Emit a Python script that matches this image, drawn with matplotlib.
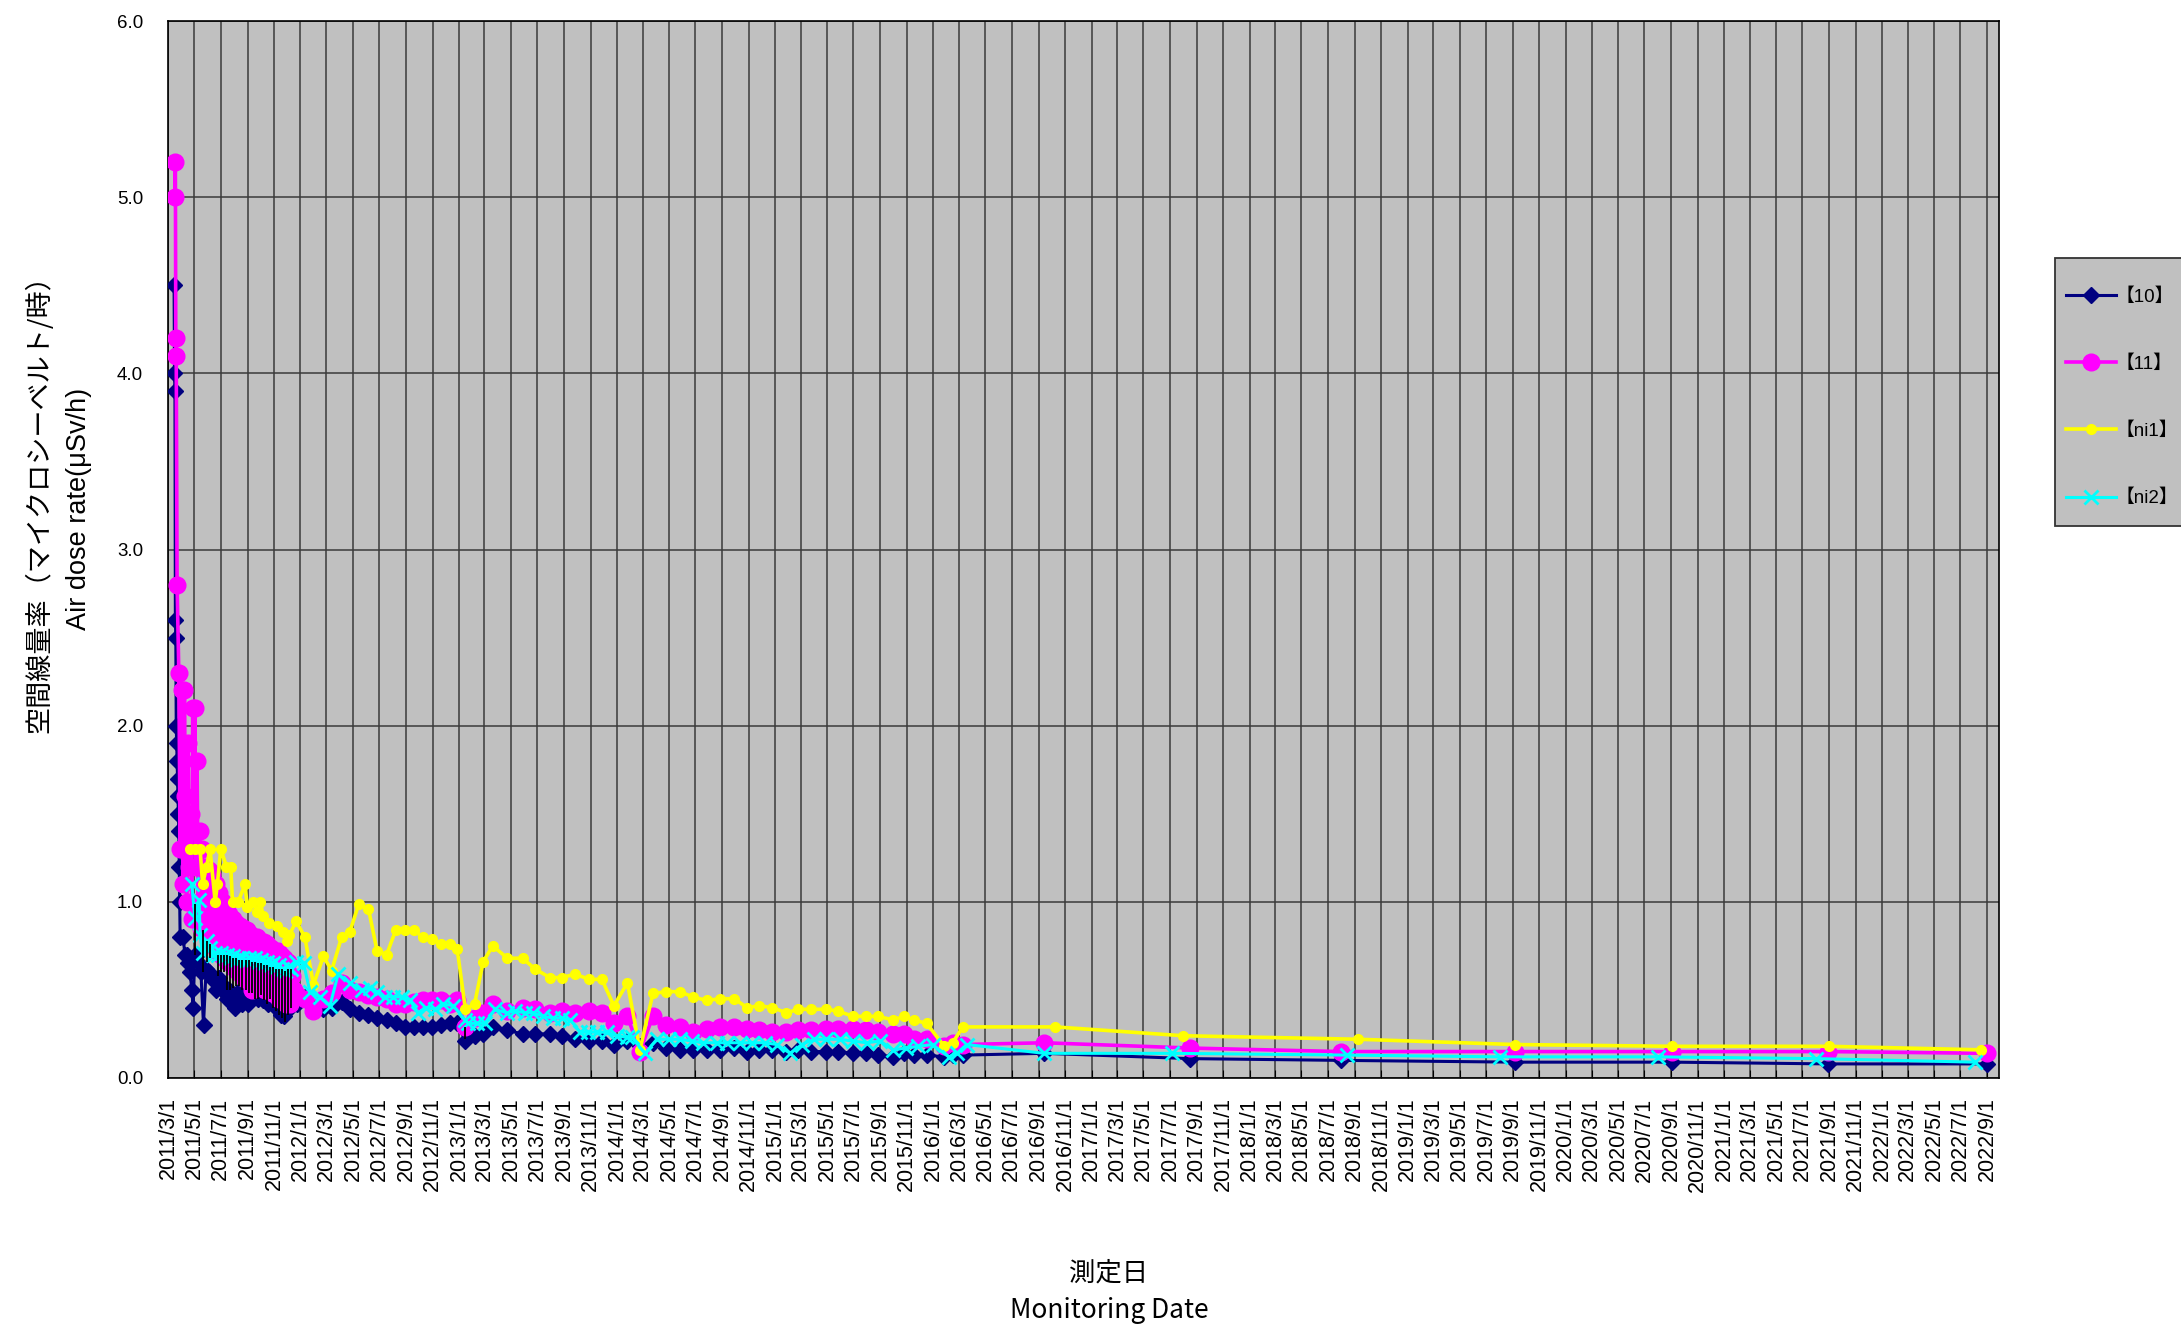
import matplotlib
matplotlib.use("Agg")
import matplotlib.pyplot as plt
import matplotlib.dates as mdates
from matplotlib.ticker import MultipleLocator, FuncFormatter
from matplotlib.patches import Rectangle
import pandas as pd

plt.rcParams['font.family'] = ['Liberation Sans', 'Noto Sans CJK JP', 'DejaVu Sans']

# ---- data -------------------------------------------------------------
# 【10】 daily / weekly readings in 2011
s10_2011_dates = [
    "2011-03-15", "2011-03-16", "2011-03-17", "2011-03-18", "2011-03-19",
    "2011-03-20", "2011-03-21", "2011-03-22", "2011-03-23", "2011-03-24",
    "2011-03-25", "2011-03-26", "2011-03-27", "2011-03-28", "2011-03-29",
    "2011-04-05", "2011-04-09", "2011-04-13", "2011-04-17", "2011-04-21", "2011-04-25", "2011-04-28",
    "2011-05-02", "2011-05-06", "2011-05-11", "2011-05-16", "2011-05-22", "2011-05-28",
    "2011-06-03", "2011-06-09", "2011-06-15", "2011-06-21", "2011-06-27",
    "2011-07-03", "2011-07-09", "2011-07-15", "2011-07-21", "2011-07-27",
    "2011-08-02", "2011-08-08", "2011-08-14", "2011-08-20", "2011-08-26",
    "2011-09-01", "2011-09-07", "2011-09-13", "2011-09-19", "2011-09-25",
    "2011-10-01", "2011-10-07", "2011-10-13", "2011-10-19", "2011-10-25", "2011-10-31",
    "2011-11-06", "2011-11-12", "2011-11-18", "2011-11-24", "2011-11-30",
    "2011-12-06", "2011-12-12", "2011-12-18", "2011-12-24",
]
s10_2011_vals = [
    4.5, 4.0, 3.9, 2.6, 2.5,
    2.0, 1.9, 1.8, 1.7, 1.6,
    1.5, 1.4, 1.2, 1.0, 0.8,
    0.8, 0.7, 0.7, 0.65, 0.6, 0.5, 0.4,
    0.7, 0.7, 0.65, 0.6, 0.3, 0.62,
    0.6, 0.58, 0.55, 0.5, 0.57,
    0.5, 0.52, 0.45, 0.5, 0.48,
    0.4, 0.45, 0.5, 0.42, 0.44,
    0.42, 0.48, 0.5, 0.46, 0.45,
    0.47, 0.44, 0.46, 0.42, 0.44, 0.41,
    0.42, 0.40, 0.36, 0.35, 0.38,
    0.40, 0.42, 0.44, 0.42,
]

# 【11】 readings in 2011
s11_2011_dates = [
    "2011-03-17", "2011-03-18", "2011-03-19", "2011-03-20", "2011-03-22", "2011-03-26", "2011-03-29",
    "2011-04-02", "2011-04-05", "2011-04-08", "2011-04-10", "2011-04-13", "2011-04-16",
    "2011-04-19", "2011-04-22", "2011-04-25", "2011-04-27", "2011-04-30",
    "2011-05-02", "2011-05-05", "2011-05-07", "2011-05-10", "2011-05-13", "2011-05-16",
    "2011-05-19", "2011-05-22", "2011-05-26", "2011-05-30",
    "2011-06-03", "2011-06-07", "2011-06-11", "2011-06-15", "2011-06-19", "2011-06-23", "2011-06-27",
    "2011-07-01", "2011-07-05", "2011-07-09", "2011-07-13", "2011-07-17", "2011-07-21", "2011-07-25", "2011-07-29",
    "2011-08-02", "2011-08-06", "2011-08-10", "2011-08-14", "2011-08-18", "2011-08-22", "2011-08-26", "2011-08-30",
    "2011-09-03", "2011-09-07", "2011-09-10", "2011-09-14", "2011-09-18", "2011-09-22", "2011-09-26", "2011-09-30",
    "2011-10-04", "2011-10-08", "2011-10-12", "2011-10-16", "2011-10-20", "2011-10-24", "2011-10-28",
    "2011-11-01", "2011-11-05", "2011-11-09", "2011-11-13", "2011-11-17", "2011-11-21", "2011-11-25", "2011-11-29",
    "2011-12-03", "2011-12-08", "2011-12-13", "2011-12-18", "2011-12-23",
]
s11_2011_vals = [
    5.0, 5.2, 4.2, 4.1, 2.8, 2.3, 1.3,
    2.2, 1.1, 2.2, 1.6, 1.0, 1.9,
    1.2, 1.5, 0.9, 2.1, 1.4,
    2.1, 1.2, 1.8, 1.0, 1.4, 0.85,
    1.3, 1.0, 1.2, 0.9,
    1.18, 0.8, 1.15, 0.75, 1.1, 0.72, 1.05,
    0.7, 1.0, 0.68, 0.97, 0.66, 0.93, 0.65, 0.9,
    0.62, 0.88, 0.6, 0.86, 0.58, 0.85, 0.56, 0.84,
    0.55, 0.82, 0.5, 0.8, 0.55, 0.8, 0.53, 0.78,
    0.52, 0.77, 0.5, 0.76, 0.5, 0.74, 0.48,
    0.72, 0.47, 0.72, 0.45, 0.7, 0.44, 0.68, 0.42,
    0.66, 0.42, 0.58, 0.5, 0.47,
]

# 【ni1】 readings in 2011
ni1_2011_dates = [
    "2011-04-20", "2011-05-02", "2011-05-14", "2011-05-20", "2011-05-29", "2011-06-06",
    "2011-06-18", "2011-06-23", "2011-07-01", "2011-07-14", "2011-07-24", "2011-07-28",
    "2011-08-10", "2011-08-26", "2011-08-31", "2011-09-14", "2011-09-23", "2011-09-30",
    "2011-10-07", "2011-10-21", "2011-11-07", "2011-11-22", "2011-11-30", "2011-12-06", "2011-12-22",
]
ni1_2011_vals = [
    1.3, 1.3, 1.3, 1.1, 1.2, 1.3,
    1.0, 1.1, 1.3, 1.2, 1.2, 1.0,
    1.0, 1.1, 0.97, 1.0, 0.94, 1.0,
    0.92, 0.88, 0.86, 0.83, 0.78, 0.81, 0.89,
]

# monthly survey dates 2012 - 2016 (【10】, 【11】, 【ni1】)
survey_dates = [
    "2012-01-11", "2012-01-31", "2012-02-23", "2012-03-13", "2012-04-05", "2012-04-24",
    "2012-05-15", "2012-06-06", "2012-06-26", "2012-07-18", "2012-08-08", "2012-08-29",
    "2012-09-19", "2012-10-09", "2012-10-30", "2012-11-20", "2012-12-11", "2012-12-28",
    "2013-01-16", "2013-02-06", "2013-02-26", "2013-03-20", "2013-04-23", "2013-05-28",
    "2013-06-25", "2013-07-30", "2013-08-27", "2013-09-26", "2013-10-29", "2013-11-27",
    "2013-12-25", "2014-01-25", "2014-02-23", "2014-03-25", "2014-04-25", "2014-05-27",
    "2014-06-25", "2014-07-28", "2014-08-26", "2014-09-29", "2014-10-28", "2014-11-26",
    "2014-12-26", "2015-01-27", "2015-02-24", "2015-03-25", "2015-04-28", "2015-05-27",
    "2015-06-30", "2015-07-29", "2015-08-27", "2015-09-30", "2015-10-27", "2015-11-17",
    "2015-12-17", "2016-01-27", "2016-02-15", "2016-03-10",
]
s10_survey = [
    0.46, 0.40, 0.39, 0.40, 0.43, 0.39,
    0.37, 0.36, 0.34, 0.33, 0.31, 0.29,
    0.29, 0.29, 0.29, 0.30, 0.31, 0.31,
    0.21, 0.24, 0.25, 0.29, 0.27, 0.25,
    0.25, 0.25, 0.24, 0.22, 0.21, 0.21,
    0.19, 0.21, 0.18, 0.20, 0.17, 0.16,
    0.16, 0.16, 0.16, 0.17, 0.15, 0.16,
    0.16, 0.15, 0.16, 0.15, 0.15, 0.15,
    0.14, 0.14, 0.13, 0.12, 0.14, 0.13,
    0.13, 0.12, 0.13, 0.13,
]
s11_survey = [
    0.45, 0.38, 0.45, 0.48, 0.54, 0.50,
    0.49, 0.47, 0.46, 0.45, 0.42, 0.42,
    0.43, 0.44, 0.44, 0.44, 0.42, 0.44,
    0.29, 0.34, 0.37, 0.42, 0.38, 0.40,
    0.39, 0.37, 0.38, 0.37, 0.38, 0.37,
    0.31, 0.35, 0.15, 0.35, 0.30, 0.29,
    0.26, 0.28, 0.29, 0.29, 0.28, 0.27,
    0.26, 0.26, 0.27, 0.27, 0.28, 0.28,
    0.28, 0.27, 0.26, 0.25, 0.25, 0.22,
    0.22, 0.18, 0.20, 0.19,
]
ni1_survey = [
    0.80, 0.53, 0.69, 0.61, 0.80, 0.83,
    0.99, 0.96, 0.72, 0.70, 0.84, 0.84,
    0.84, 0.80, 0.79, 0.76, 0.76, 0.73,
    0.39, 0.42, 0.66, 0.75, 0.68, 0.68,
    0.62, 0.57, 0.57, 0.59, 0.56, 0.56,
    0.41, 0.54, 0.16, 0.48, 0.49, 0.49,
    0.46, 0.44, 0.45, 0.45, 0.40, 0.41,
    0.40, 0.37, 0.39, 0.39, 0.39, 0.38,
    0.35, 0.35, 0.35, 0.33, 0.35, 0.33,
    0.31, 0.18, 0.20, 0.29,
]

# yearly readings after 2016
yearly_dates = ["2016-09-14", "2017-08-17", "2018-07-31", "2019-09-07",
                "2020-09-03", "2021-08-30", "2022-09-01"]
s10_yearly = [0.14, 0.11, 0.10, 0.09, 0.09, 0.08, 0.08]
s11_yearly = [0.20, 0.17, 0.15, 0.15, 0.15, 0.15, 0.14]
ni1_yearly_dates = ["2016-10-09", "2017-07-31", "2018-09-08", "2019-09-05",
                    "2020-09-03", "2021-09-01", "2022-08-18"]
ni1_yearly = [0.29, 0.24, 0.22, 0.19, 0.18, 0.18, 0.16]

# 【ni2】 has its own schedule
ni2_dates = [
    "2011-04-25", "2011-05-02", "2011-05-12", "2011-05-14", "2011-05-20", "2011-05-29",
    "2011-06-06", "2011-06-12", "2011-06-18", "2011-06-25", "2011-07-02", "2011-07-09",
    "2011-07-16", "2011-07-23", "2011-07-30", "2011-08-06", "2011-08-13", "2011-08-20",
    "2011-08-27", "2011-09-03", "2011-09-10", "2011-09-17", "2011-09-24", "2011-10-01",
    "2011-10-08", "2011-10-15", "2011-10-22", "2011-10-29", "2011-11-05", "2011-11-12",
    "2011-11-19", "2011-11-26", "2011-12-03", "2011-12-10", "2011-12-22",
    "2012-01-08", "2012-01-23", "2012-02-15", "2012-03-09", "2012-03-28", "2012-04-24",
    "2012-05-21", "2012-06-10", "2012-06-25", "2012-07-14", "2012-08-02", "2012-08-22",
    "2012-09-10", "2012-09-29", "2012-10-18", "2012-11-07", "2012-11-26", "2012-12-19",
    "2013-01-15", "2013-01-23", "2013-02-11", "2013-03-02", "2013-03-25", "2013-04-21",
    "2013-05-11", "2013-06-03", "2013-06-22", "2013-07-15", "2013-08-07", "2013-08-26",
    "2013-09-15", "2013-10-08", "2013-10-27", "2013-11-15", "2013-12-08", "2013-12-31",
    "2014-01-24", "2014-02-04", "2014-03-07", "2014-04-03", "2014-05-02", "2014-05-27",
    "2014-06-23", "2014-07-18", "2014-08-19", "2014-09-11", "2014-10-11", "2014-11-08",
    "2014-12-09", "2015-01-05", "2015-02-05", "2015-03-04", "2015-03-31", "2015-04-29",
    "2015-05-30", "2015-06-29", "2015-08-01", "2015-09-01", "2015-10-01", "2015-10-31",
    "2015-11-28", "2015-12-31", "2016-02-06", "2016-02-25", "2016-03-19",
    "2016-09-14", "2017-07-06", "2018-08-14", "2019-08-03", "2020-08-02", "2021-08-02", "2022-08-04",
]
ni2_vals = [
    1.10, 0.91, 1.01, 0.81, 0.71, 0.78,
    0.74, 0.70, 0.71, 0.70, 0.71, 0.69,
    0.70, 0.68, 0.69, 0.67, 0.68, 0.68,
    0.67, 0.68, 0.67, 0.68, 0.66, 0.67,
    0.65, 0.66, 0.64, 0.65, 0.63, 0.64,
    0.62, 0.61, 0.63, 0.62, 0.66,
    0.65, 0.49, 0.46, 0.41, 0.59, 0.54,
    0.50, 0.51, 0.49, 0.46, 0.46, 0.46,
    0.44, 0.37, 0.40, 0.39, 0.42, 0.41,
    0.33, 0.31, 0.31, 0.31, 0.39, 0.37,
    0.38, 0.37, 0.37, 0.35, 0.34, 0.34,
    0.33, 0.26, 0.26, 0.26, 0.26, 0.24,
    0.23, 0.23, 0.14, 0.22, 0.22, 0.22,
    0.21, 0.20, 0.20, 0.20, 0.20, 0.20,
    0.20, 0.19, 0.14, 0.19, 0.22, 0.22,
    0.22, 0.21, 0.20, 0.21, 0.16, 0.17,
    0.18, 0.19, 0.12, 0.14, 0.19,
    0.14, 0.14, 0.13, 0.12, 0.12, 0.11, 0.09,
]

# black range bars on 【ni2】
bar_dates = [
    "2011-05-02", "2011-05-20", "2011-05-29", "2011-06-06", "2011-06-25", "2011-07-02",
    "2011-07-09", "2011-07-16", "2011-07-23", "2011-07-30", "2011-08-06", "2011-08-13",
    "2011-08-20", "2011-08-27", "2011-09-03", "2011-09-10", "2011-09-17", "2011-09-24",
    "2011-10-01", "2011-10-08", "2011-10-15", "2011-10-22", "2011-10-29", "2011-11-05",
    "2011-11-12", "2011-11-19", "2011-11-26", "2011-12-03", "2011-12-10", "2013-01-15",
]
bar_top = [
    0.99, 0.84, 0.78, 0.76, 0.70, 0.70,
    0.70, 0.70, 0.69, 0.68, 0.68, 0.67,
    0.67, 0.67, 0.67, 0.66, 0.66, 0.65,
    0.65, 0.64, 0.64, 0.63, 0.63, 0.62,
    0.62, 0.62, 0.61, 0.62, 0.62, 0.29,
]
bar_bottom = [
    0.70, 0.60, 0.66, 0.68, 0.58, 0.60,
    0.60, 0.50, 0.50, 0.51, 0.52, 0.52,
    0.50, 0.50, 0.48, 0.48, 0.45, 0.45,
    0.47, 0.44, 0.42, 0.45, 0.40, 0.38,
    0.36, 0.34, 0.32, 0.36, 0.40, 0.22,
]

series_labels = ["【10】", "【11】", "【ni1】", "【ni2】"]
x_start, x_end = "2011-03-01", "2022-09-28"

# ---- assemble ---------------------------------------------------------
d10 = pd.to_datetime(s10_2011_dates + survey_dates + yearly_dates)
v10 = s10_2011_vals + s10_survey + s10_yearly
d11 = pd.to_datetime(s11_2011_dates + survey_dates + yearly_dates)
v11 = s11_2011_vals + s11_survey + s11_yearly
dn1 = pd.to_datetime(ni1_2011_dates + survey_dates + ni1_yearly_dates)
vn1 = ni1_2011_vals + ni1_survey + ni1_yearly
dn2 = pd.to_datetime(ni2_dates)

# ---- plot -------------------------------------------------------------
W, H = 2181, 1326
fig = plt.figure(figsize=(W / 100, H / 100), dpi=100)
ax = fig.add_axes([168 / W, 1 - 1078 / H, (1999 - 168) / W, (1078 - 21) / H])
ax.set_facecolor('#C0C0C0')

l10, = ax.plot(d10, v10, color='#000080', lw=2.2, marker='D', ms=8,
               mec='#000080', mfc='#000080', label=series_labels[0], zorder=3)
l11, = ax.plot(d11, v11, color='#FF00FF', lw=2.6, marker='o', ms=12,
               mec='#FF00FF', mfc='#FF00FF', label=series_labels[1], zorder=4)
ln1, = ax.plot(dn1, vn1, color='#FFFF00', lw=2.6, marker='o', ms=7,
               mec='#FFFF00', mfc='#FFFF00', label=series_labels[2], zorder=5)
ln2, = ax.plot(dn2, ni2_vals, color='#00FFFF', lw=2.2, marker='x', ms=10,
               mew=2, mec='#00FFFF', label=series_labels[3], zorder=6)
ax.vlines(pd.to_datetime(bar_dates), bar_bottom, bar_top, color='black', lw=1.3, zorder=7)

ax.set_xlim(pd.Timestamp(x_start), pd.Timestamp(x_end))
ax.set_ylim(0, 6)
ax.yaxis.set_major_locator(MultipleLocator(1.0))
ax.yaxis.set_major_formatter(FuncFormatter(lambda v, p: f"{v:.1f}"))
ax.xaxis.set_major_locator(mdates.MonthLocator(bymonth=[1, 3, 5, 7, 9, 11], bymonthday=1))
ax.xaxis.set_major_formatter(FuncFormatter(
    lambda v, p: (lambda d: f"{d.year}/{d.month}/{d.day}")(mdates.num2date(v))))

ax.grid(True, which='major', color='#3a3a3a', lw=1.1)
ax.set_axisbelow(True)
for sp in ax.spines.values():
    sp.set_color('black')
    sp.set_linewidth(1.2)

ax.tick_params(axis='x', direction='in', length=6, pad=14, labelsize=15.5, rotation=90)
ax.tick_params(axis='y', direction='out', length=0, pad=18, labelsize=13.5)

fig.text(0.018, 0.625, "空間線量率（マイクロシーベルト/時）", rotation=90, ha='center', va='center',
         fontsize=19.5, family=['Noto Sans CJK JP', 'DejaVu Sans'])
fig.text(0.036, 0.616, "Air dose rate(μSv/h)", rotation=90, ha='center', va='center',
         fontsize=19.5, family=['Liberation Sans', 'DejaVu Sans'])
fig.text(0.5085, 0.040, "測定日", ha='center', va='center', fontsize=19,
         family=['Noto Sans CJK JP', 'DejaVu Sans'])
fig.text(0.5085, 0.012, "Monitoring Date", ha='center', va='center', fontsize=19,
         family=['Noto Sans CJK JP', 'DejaVu Sans'])

# legend box runs past the right edge of the picture
box = Rectangle((2055 / W, 1 - 526 / H), 0.1, (526 - 258) / H, transform=fig.transFigure,
                facecolor='#C0C0C0', edgecolor='#333333', lw=1.3, zorder=1)
fig.patches.append(box)
leg = fig.legend(handles=[l10, l11, ln1, ln2], loc='upper left',
                 bbox_to_anchor=(2066 / W, 1 - 288 / H), borderaxespad=0, borderpad=0,
                 numpoints=1, fontsize=13.5, labelspacing=2.65, handlelength=2.65,
                 handletextpad=0.0, frameon=False)
leg.set_zorder(2)

fig.savefig("out.png", dpi=100)
